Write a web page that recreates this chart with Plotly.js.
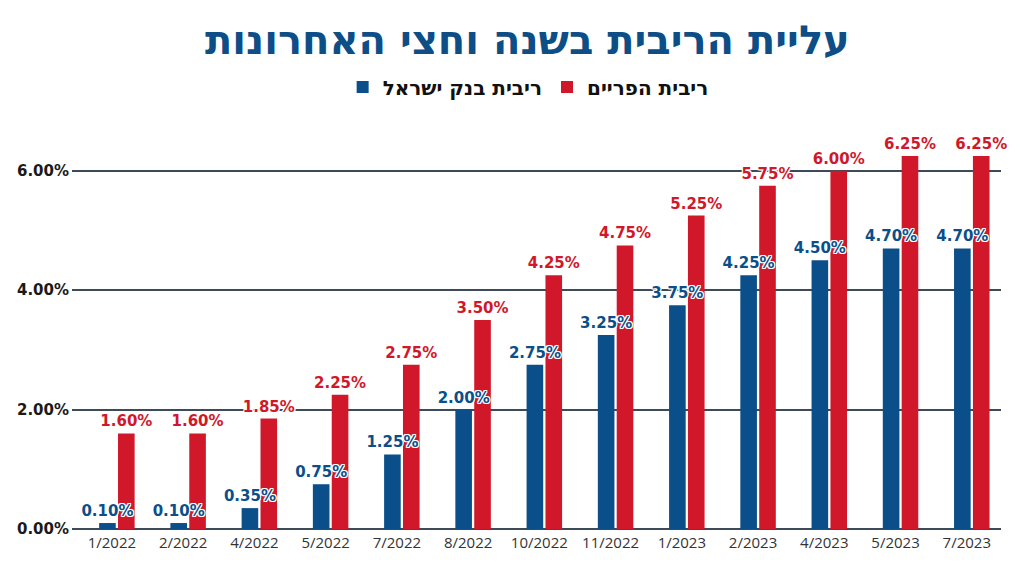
<!DOCTYPE html>
<html>
<head>
<meta charset="utf-8">
<script src="https://cdn.plot.ly/plotly-3.0.1.min.js"></script>
<style>html,body{margin:0;padding:0;background:#fff;}#chart{width:1024px;height:575px;}</style>
</head>
<body>
<div id="chart"></div>
<script>
const categories = ["1/2022","2/2022","4/2022","5/2022","7/2022","8/2022","10/2022","11/2022","1/2023","2/2023","4/2023","5/2023","7/2023"];
const boiRate = [0.10,0.10,0.35,0.75,1.25,2.00,2.75,3.25,3.75,4.25,4.50,4.70,4.70];
const primeRate = [1.60,1.60,1.85,2.25,2.75,3.50,4.25,4.75,5.25,5.75,6.00,6.25,6.25];
const seriesNames = ["ריבית בנק ישראל","ריבית הפריים"];
const titleText = "עליית הריבית בשנה וחצי האחרונות";

const BLUE = "#0b4f8a";
const RED = "#d0182a";
const fmt = v => v.toFixed(2) + "%";
const outline = "1px 1px 0 #fff, -1px -1px 0 #fff, 1px -1px 0 #fff, -1px 1px 0 #fff, 0 1px 0 #fff, 0 -1px 0 #fff, 1px 0 0 #fff, -1px 0 0 #fff";

const labelFont = (c) => ({family: "DejaVu Sans", size: 15, weight: 700, color: c, shadow: outline});

const traces = [
  {type:"bar", name:seriesNames[0], x:categories, y:boiRate, marker:{color:BLUE}, hoverinfo:"skip"},
  {type:"bar", name:seriesNames[1], x:categories, y:primeRate, marker:{color:RED}, hoverinfo:"skip"},
  {type:"bar", x:categories, y:boiRate, xaxis:"x2", yaxis:"y2", showlegend:false, marker:{color:"rgba(0,0,0,0)"},
   text:boiRate.map(fmt), textposition:"outside", constraintext:"none", cliponaxis:false, textfont:labelFont(BLUE), hoverinfo:"skip"},
  {type:"bar", x:categories, y:primeRate, xaxis:"x2", yaxis:"y2", showlegend:false, marker:{color:"rgba(0,0,0,0)"},
   text:primeRate.map(fmt), textposition:"outside", constraintext:"none", cliponaxis:false, textfont:labelFont(RED), hoverinfo:"skip"}
];

const xr = [-0.63, 12.41];
const yr = [0, 6.6];
const layout = {
  width:1024, height:575,
  margin:{l:72, r:23, t:135, b:46},
  paper_bgcolor:"#fff", plot_bgcolor:"#fff",
  barmode:"group", bargap:0.47, bargroupgap:0.12,
  showlegend:true,
  title:{text:titleText, xref:"container", x:0.515, xanchor:"center", y:0.93, yanchor:"middle",
         font:{family:"DejaVu Sans", size:40, weight:700, color:"#0d4e87"}},
  legend:{orientation:"h", x:0.491, xanchor:"center", y:1.122, yanchor:"middle",
          font:{family:"DejaVu Sans", size:20, weight:700, color:"#111"}, traceorder:"normal"},
  xaxis:{type:"category", range:xr, showgrid:false, zeroline:false, showline:false, ticks:"",
         tickfont:{family:"Open Sans", size:15, color:"#333"}, ticklabelshift:-5, ticklabelstandoff:3, fixedrange:true},
  yaxis:{range:yr, tickvals:[0,2,4,6], ticktext:["0.00%","2.00%","4.00%","6.00%"], showgrid:true,
         gridcolor:"#3d4b58", gridwidth:2, zeroline:true, zerolinecolor:"#3d4b58", zerolinewidth:2,
         tickfont:{family:"DejaVu Sans", size:15, weight:700, color:"#1a1a1a"}, ticks:"", ticklabelstandoff:2, fixedrange:true},
  xaxis2:{type:"category", overlaying:"x", range:xr, visible:false, fixedrange:true},
  yaxis2:{overlaying:"y", range:yr, visible:false, fixedrange:true}
};

Plotly.newPlot("chart", traces, layout, {staticPlot:true, displayModeBar:false});
</script>
</body>
</html>
